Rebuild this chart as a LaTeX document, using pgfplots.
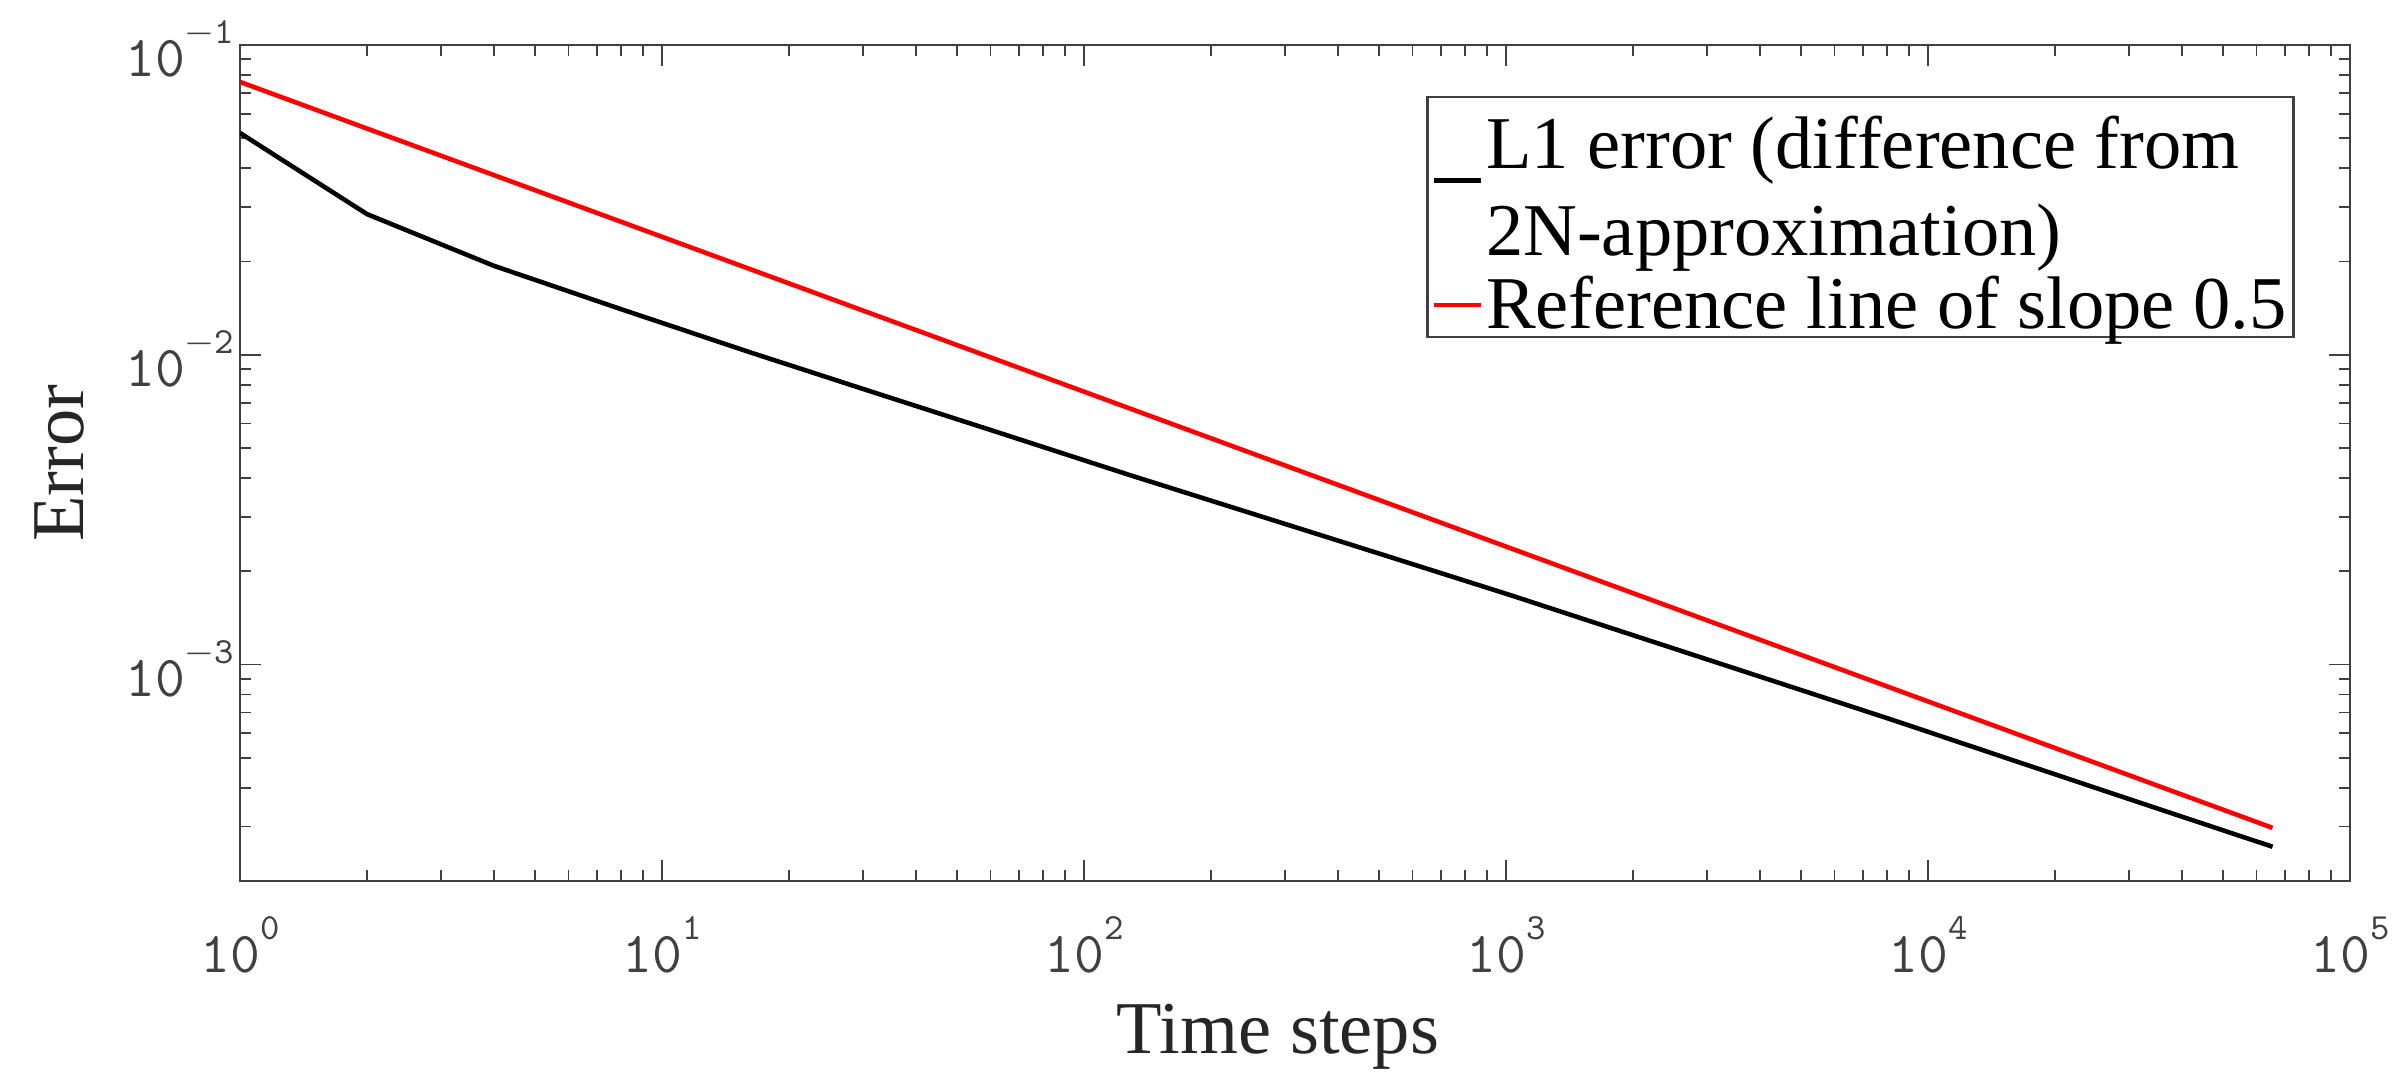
\documentclass[border=0pt]{standalone}
\usepackage{fontspec}
\setmainfont{Liberation Serif}
\usepackage{pgfplots}
\pgfplotsset{compat=1.18}
\definecolor{axiscol}{RGB}{64,64,64}
\newcommand{\myexp}[1]{%
  \pgfmathtruncatemacro{\myE}{round(#1/2.302585093)}%
  10\raisebox{3.3mm}{\fontsize{10.5}{12}\selectfont\ifnum\myE<0 $-$\pgfmathtruncatemacro{\myEa}{-\myE}\myEa\else\myE\fi}%
}
\begin{document}
\begin{tikzpicture}
\begin{loglogaxis}[
  name=ax, scale only axis, width=211mm, height=83.6mm,
  xmin=1, xmax=1e5, ymin=2e-4, ymax=0.1,
  axis line style={draw=axiscol, line width=0.6pt},
  every tick/.style={draw=axiscol, line width=0.5pt},
  major tick length=2.1mm, minor tick length=1.1mm,
  tick align=inside,
  xticklabel={\myexp{\tick}}, yticklabel={\myexp{\tick}},
  ticklabel style={font=\fontsize{16.5}{18}\selectfont\ttfamily, text=axiscol, inner sep=0pt},
  xticklabel style={anchor=base, yshift=-9.1mm},
  yticklabel style={anchor=base east, xshift=-0.5mm, yshift=-3.2mm},
  xlabel={Time steps}, ylabel={Error},
  label style={font=\fontsize{21.2}{24}\selectfont, text=black!85},
  xlabel style={at={([xshift=-1.7mm,yshift=-17.2mm]axis description cs:0.5,0)}, anchor=base},
  ylabel style={at={([xshift=-15.6mm]axis description cs:0,0.5)}, anchor=base},
  legend style={at={(axis description cs:0.9739,0.939)}, anchor=north east,
    draw=axiscol, line width=0.7pt, fill=white, inner xsep=0.4mm, inner ysep=0.2mm,
    font=\fontsize{21.2}{25}\selectfont, nodes={inner xsep=0.3mm, inner ysep=0.1mm, align=left}, row sep=1.3mm},
  legend cell align=left,
  legend image code/.code={\draw[#1] (0mm,0mm) -- (4.7mm,0mm);},
]
\addplot[black, line width=1.3pt] coordinates {
(1,0.052) (2,0.02844) (4,0.01936) (8,0.01403) (16,0.01023) (32,0.007534)
(64,0.005559) (128,0.004093) (256,0.003041) (512,0.002259) (1024,0.001675)
(2048,0.001230) (4096,0.000904) (8192,0.000664) (16384,0.000484)
(32768,0.000353) (65536,0.000258)};
\addlegendentry{\rule{0pt}{0.91em}L1 error (difference from\\2N-approximation)}
\addplot[red, line width=1.3pt] coordinates {(1,0.076) (65536,0.000296875)};
\addlegendentry{Reference line of slope 0.5}
\end{loglogaxis}
\pgfresetboundingbox
\path[use as bounding box] ([xshift=-24mm,yshift=-19.9mm]ax.south west) rectangle ([xshift=5mm,yshift=4.5mm]ax.north east);
\end{tikzpicture}
\end{document}
